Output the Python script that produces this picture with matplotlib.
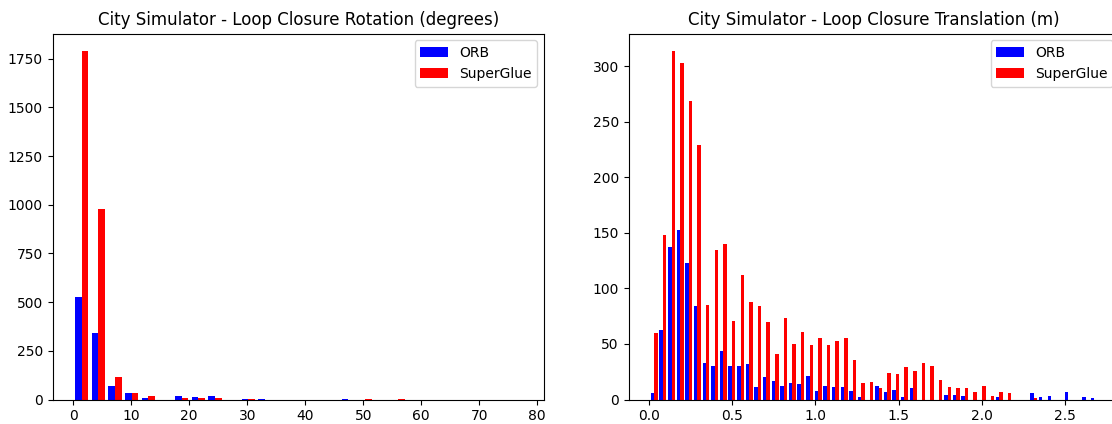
import numpy as np
import matplotlib
matplotlib.use("Agg")
import matplotlib.pyplot as plt

# Loop-closure rotation error histogram (degrees): 27 bins over [0, 77.6]
rot_range = (0.0, 77.6)
rot_orb = [525, 342, 67, 31, 10, 0, 16, 12, 16, 0, 5, 5, 0, 0, 0, 0,
           5, 0, 0, 0, 0, 0, 0, 0, 0, 0, 0]
rot_superglue = [1790, 977, 118, 31, 20, 0, 6, 8, 7, 0, 5, 0, 0, 0, 0, 0,
                 0, 5, 0, 5, 0, 0, 0, 0, 0, 0, 0]

# Loop-closure translation error histogram (m): 52 bins over [0.0068, 2.70]
trans_range = (0.0068, 2.7004)
trans_orb = [6, 63, 137, 153, 123, 84, 33, 30, 44, 30, 30, 32, 11, 20, 17, 12,
             15, 14, 21, 8, 12, 11, 11, 8, 2, 0, 12, 7, 9, 2, 10, 0,
             0, 0, 4, 4, 3, 0, 0, 0, 2, 0, 0, 0, 6, 2, 3, 0,
             7, 0, 2, 1]
trans_superglue = [60, 148, 314, 303, 269, 229, 85, 135, 140, 71, 112, 88, 84, 70, 41, 73,
                   50, 61, 49, 55, 49, 53, 55, 36, 15, 16, 10, 24, 23, 29, 26, 33,
                   30, 18, 11, 10, 10, 7, 12, 3, 7, 6, 0, 0, 1, 0, 0, 0,
                   0, 0, 0, 0]

series_labels = ["ORB", "SuperGlue"]
series_colors = ["blue", "red"]

W, H = 1112, 424
fig = plt.figure(figsize=(W / 100, H / 100), dpi=100)
ax_rot = fig.add_axes([52.5 / W, 24.5 / H, 491.5 / W, 366.0 / H])
ax_trans = fig.add_axes([628.5 / W, 24.5 / H, 491.5 / W, 366.0 / H])


def draw_hist(ax, value_range, orb, superglue, title):
    edges = np.linspace(value_range[0], value_range[1], len(orb) + 1)
    centers = 0.5 * (edges[:-1] + edges[1:])
    ax.hist([centers, centers], bins=edges, weights=[orb, superglue],
            color=series_colors, label=series_labels)
    ax.set_title(title)
    ax.legend(loc="upper right")


draw_hist(ax_rot, rot_range, rot_orb, rot_superglue,
          "City Simulator - Loop Closure Rotation (degrees)")
draw_hist(ax_trans, trans_range, trans_orb, trans_superglue,
          "City Simulator - Loop Closure Translation (m)")

fig.savefig("out.png", dpi=100)
